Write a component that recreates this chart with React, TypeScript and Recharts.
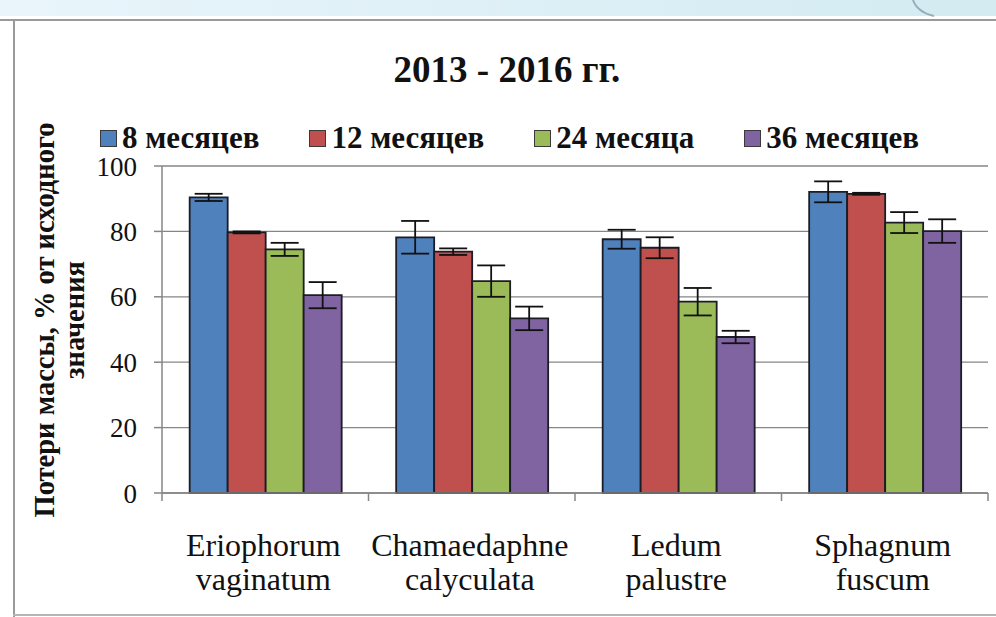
import React from 'react';
import { BarChart, Bar, XAxis, YAxis, CartesianGrid, ErrorBar, Legend } from 'recharts';

// ---------- data ----------
const categories = ['Eriophorum vaginatum', 'Chamaedaphne calyculata', 'Ledum palustre', 'Sphagnum fuscum'];
const seriesNames = ['8 месяцев', '12 месяцев', '24 месяца', '36 месяцев'];
const months8 = [90.4, 78.2, 77.6, 92.1];
const err8 = [1.1, 5.0, 2.9, 3.2];
const months12 = [79.7, 73.8, 75.0, 91.5];
const err12 = [0.3, 1.0, 3.2, 0.3];
const months24 = [74.5, 64.8, 58.5, 82.7];
const err24 = [2.0, 4.8, 4.2, 3.2];
const months36 = [60.5, 53.4, 47.7, 80.1];
const err36 = [4.0, 3.6, 1.9, 3.6];
const yTicks = [0, 20, 40, 60, 80, 100];
const titleText = '2013 - 2016 гг.';
const yLabelLines = ['Потери массы, % от исходного', 'значения'];

const data = categories.map((name, i) => ({
  name,
  m8: months8[i], e8: err8[i],
  m12: months12[i], e12: err12[i],
  m24: months24[i], e24: err24[i],
  m36: months36[i], e36: err36[i],
}));

// ---------- styles ----------
const SERIF = "'Liberation Serif', 'DejaVu Serif', 'Times New Roman', serif";
const colors = ['#4F81BD', '#C0504D', '#9BBB59', '#8064A2'];
const keys = ['m8', 'm12', 'm24', 'm36'];
const errKeys = ['e8', 'e12', 'e24', 'e36'];
const W = 996;
const H = 617;
const PLOT_LEFT = 162;
const PLOT_RIGHT = 988;
const PLOT_TOP = 166;
const PLOT_BOTTOM = 493;
const YAXIS_W = 60;
const XAXIS_H = 110;
const BAND = (PLOT_RIGHT - PLOT_LEFT) / categories.length;
const AXIS_GRAY = '#868686';

const XTick = (props: any) => {
  const { x, y, payload, index } = props;
  const words = String(payload.value).split(' ');
  const left = x - BAND / 2;
  return (
    <g>
      <line x1={left} y1={y} x2={left} y2={y + 8} stroke={AXIS_GRAY} strokeWidth={1.5} />
      {index === categories.length - 1 && (
        <line x1={x + BAND / 2} y1={y} x2={x + BAND / 2} y2={y + 8} stroke={AXIS_GRAY} strokeWidth={1.5} />
      )}
      <text x={x - 2} y={y + 63} textAnchor="middle" style={{ fontFamily: SERIF, fontSize: 32 }} fill="#111">
        {words[0]}
      </text>
      <text x={x - 2} y={y + 97} textAnchor="middle" style={{ fontFamily: SERIF, fontSize: 32 }} fill="#111">
        {words.slice(1).join(' ')}
      </text>
    </g>
  );
};

const YLabel = () => {
  const cy = 320;
  const st = { fontFamily: SERIF, fontWeight: 'bold' as const, fontSize: 28.5 };
  return (
    <g>
      <text x={54} y={cy} transform={`rotate(-90 54 ${cy})`} textAnchor="middle" style={st} fill="#111">
        {yLabelLines[0]}
      </text>
      <text x={84} y={cy} transform={`rotate(-90 84 ${cy})`} textAnchor="middle" style={st} fill="#111">
        {yLabelLines[1]}
      </text>
    </g>
  );
};

const LegendContent = () => (
  <div
    style={{
      display: 'flex',
      alignItems: 'center',
      paddingLeft: 100,
      gap: 50,
      fontFamily: SERIF,
      fontWeight: 'bold',
      fontSize: 31,
      lineHeight: '34px',
      color: '#111',
      whiteSpace: 'nowrap',
    }}
  >
    {seriesNames.map((n, i) => (
      <div key={n} style={{ display: 'flex', alignItems: 'center' }}>
        <span
          style={{
            display: 'inline-block',
            width: 15,
            height: 15,
            background: colors[i],
            border: '1px solid #3a3a3a',
            marginRight: 5,
          }}
        />
        <span>{n}</span>
      </div>
    ))}
  </div>
);

export default function App() {
  return (
    <div style={{ position: 'absolute', left: 0, top: 0, width: W, height: H, background: '#fff', overflow: 'hidden', fontFamily: SERIF }}>
      <svg width={W} height={H} style={{ position: 'absolute', left: 0, top: 0 }}>
        <defs>
          <linearGradient id="band" x1="0" y1="0" x2="1" y2="0">
            <stop offset="0" stopColor="#e9f5fb" />
            <stop offset="1" stopColor="#d3ebf2" />
          </linearGradient>
        </defs>
        <rect x={0} y={0} width={W} height={16} fill="url(#band)" />
        <path d="M 913 0 Q 917 12 934 16 L 996 16 L 996 0 Z" fill="#d4ebf2" />
        <path d="M 913 0 Q 917 12 934 16" fill="none" stroke="#98aeb6" strokeWidth={2} />
        <rect x={0} y={19} width={W} height={2} fill="#9a9a9a" />
        <rect x={13} y={20} width={2} height={H - 20} fill="#9a9a9a" />
        <rect x={13} y={614} width={W} height={2} fill="#b5b5b5" />
      </svg>
      <div
        style={{
          position: 'absolute',
          left: 0,
          top: 49,
          width: 1014,
          textAlign: 'center',
          fontFamily: SERIF,
          fontWeight: 'bold',
          fontSize: 37,
          lineHeight: '42px',
          color: '#111',
        }}
      >
        {titleText}
      </div>
      <div style={{ position: 'absolute', left: 0, top: 0 }}>
        <BarChart
          width={W}
          height={H}
          data={data}
          margin={{
            top: PLOT_TOP,
            right: W - PLOT_RIGHT,
            bottom: H - PLOT_BOTTOM - XAXIS_H,
            left: PLOT_LEFT - YAXIS_W,
          }}
          barCategoryGap="13.4%"
          barGap={0}
        >
          <CartesianGrid vertical={false} stroke={AXIS_GRAY} strokeWidth={1.3} />
          <XAxis
            dataKey="name"
            height={XAXIS_H}
            tickLine={false}
            tickSize={0}
            tickMargin={0}
            interval={0}
            stroke={AXIS_GRAY}
            strokeWidth={1.5}
            tick={<XTick />}
          />
          <YAxis
            width={YAXIS_W}
            domain={[0, 100]}
            ticks={yTicks}
            interval={0}
            tickSize={8}
            tickMargin={17}
            stroke={AXIS_GRAY}
            strokeWidth={1.5}
            tick={{ fontSize: 27, fill: '#111', style: { fontFamily: SERIF } }}
            label={{ content: <YLabel /> }}
          />
          <Legend
            layout="horizontal"
            verticalAlign="middle"
            align="center"
            content={<LegendContent />}
            wrapperStyle={{ top: 121, left: 0, width: W }}
          />
          {keys.map((k, i) => (
            <Bar
              key={k}
              dataKey={k}
              name={seriesNames[i]}
              fill={colors[i]}
              stroke="#1c1c26"
              strokeWidth={1.8}
              isAnimationActive={false}
            >
              <ErrorBar dataKey={errKeys[i]} width={14} stroke="#111" strokeWidth={1.8} direction="y" />
            </Bar>
          ))}
        </BarChart>
      </div>
    </div>
  );
}
